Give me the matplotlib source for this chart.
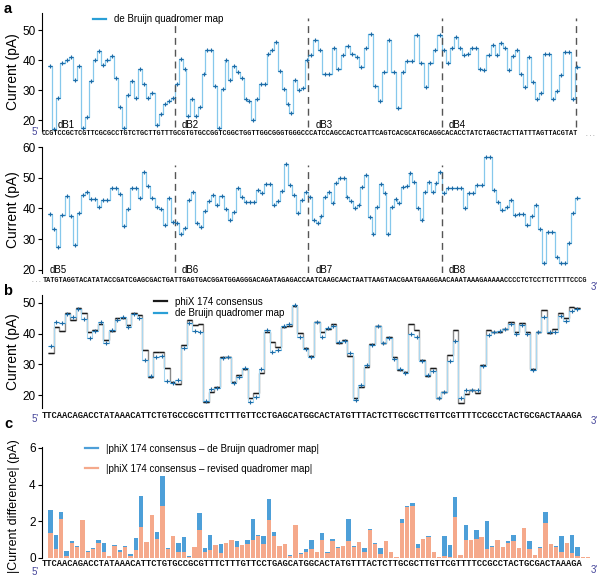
import numpy as np
import matplotlib
matplotlib.use('Agg')
import matplotlib.pyplot as plt

plt.rcParams['font.family'] = ['Liberation Sans', 'DejaVu Sans']

# ---- data ----
# panel a, upper trace: de Bruijn segments dB1..dB4 (current levels, pA)
dB1 = [38, 17, 27.5, 39, 40, 41, 33.5, 38, 17.5, 21, 33, 40, 43, 38.5, 40, 41.5, 34, 24.5,
       17.5, 28.5, 33, 27.5, 37, 32, 27.5, 29, 18.5, 22, 25.5, 26.5, 27.5]
dB2 = [32, 40.5, 37, 21.5, 27, 21.5, 24.5, 35.5, 43.5, 43.5, 31.5, 17.5, 30.5, 40, 33.5, 38,
       36, 34, 27, 26.5, 20, 27, 32, 32, 42, 43.5, 46, 36.5, 30.5, 25.5, 22.5, 33.5, 30, 30.6, 40]
dB3 = [41.7, 46.7, 43.5, 35.3, 35.3, 44, 37, 41.7, 44.7, 42.2, 41, 37.8, 44.2, 48.6, 31.3,
       26.4, 36, 46.7, 36, 23.9, 36, 39.8, 39.8, 48.3, 39.1, 30.9, 38.9, 43.3, 48.3]
dB4 = [43.3, 38.9, 43.9, 47.6, 43.9, 41.7, 42.2, 43.9, 43.9, 37.2, 36.7, 41.7, 45, 41.7, 45.6,
       43.9, 36.7, 41.3, 43.3, 35.3, 31.1, 41.1, 32.8, 26.9, 29.1, 42.2, 42.2, 27.2, 29.8, 35,
       42.8, 42.8, 26.9, 37.8]
# panel a, lower trace: dB5..dB8
dB5 = [38.1, 33.3, 27.4, 37.9, 44.1, 37.6, 28.1, 38.6, 44.4, 45.5, 43.0, 43.0, 40.6, 42.8, 42.8,
       46.6, 46.6, 44.7, 34.3, 39.8, 46.6, 46.6, 43.3, 52.0, 47.3, 43.3, 40.6, 39.8, 34.6, 43.3, 35.7]
dB6 = [35.4, 31.7, 33.5, 42.8, 45.5, 35.2, 34.1, 39.2, 42.5, 44.4, 41.1, 44.1, 39.9, 36.3, 39.0,
       46.8, 43.6, 42.2, 42.2, 42.2, 46.0, 45.1, 48.0, 48.0, 41.1, 42.5, 45.8, 54.5, 47.6, 44.4,
       38.4, 42.8, 45.5]
dB7 = [43.6, 36.3, 35.2, 37.6, 43.8, 45.5, 41.7, 48.4, 49.8, 49.8, 43.6, 42.5, 40.1, 41.1, 46.9,
       50.9, 37.1, 31.7, 40.4, 48.0, 44.9, 31.7, 40.6, 43.0, 41.9, 46.9, 47.3, 51.4, 48.7, 40.1,
       36.3, 45.5, 48.7, 45.5, 48.4, 52.0]
dB8 = [44.9, 46.6, 46.6, 46.6, 46.6, 40.3, 44.9, 44.9, 47.6, 47.6, 56.6, 56.6, 46.0, 42.2, 39.5,
       40.6, 42.8, 37.9, 38.2, 38.2, 34.6, 37.6, 41.1, 33.2, 22.4, 32.5, 32.5, 24.3, 22.4, 22.4,
       28.9, 38.6, 43.3]

seq_top = ('CCGTCCGCTCGTTCGCGCCTGTCTGCTTGTTTGCGTGTGCCGGTCGGCTGGTTGGCGGGTGG'
           'GCCCATCCAGCCACTCATTCAGTCACGCATGCAGGCACACCTATCTAGCTACTTATTTAGTTACGTAT')
seq_bottom = ('TATGTAGGTACATATACCGATCGAGCGACTGATTGAGTGACGGATGGAGGGACAGATAGAGACC'
              'AATCAAGCAACTAATTAAGTAACGAATGAAGGAACAAATAAAGAAAAACCCCTCTCCTTCTTTTCCCG')
seq_phix = ('TTCAACAGACCTATAAACATTCTGTGCCGCGTTTCTTTGTTCCTGAGCATGGCACTATGTTTACTC'
            'TTGCGCTTGTTCGTTTTCCGCCTACTGCGACTAAAGA')

# panel b: phiX 174 consensus vs de Bruijn quadromer map (pA)
consensus = [33.6, 42.3, 40.9, 46.6, 44.5, 48.3, 46.6, 40.7, 41.2, 43.0, 37.9, 41.0, 45.0, 45.0,
             42.8, 46.6, 46.1, 34.7, 26.0, 34.1, 34.1, 28.9, 24.3, 23.6, 36.3, 44.5, 42.8, 43.0,
             17.8, 21.1, 22.7, 32.5, 32.5, 24.3, 26.5, 28.4, 18.9, 20.8, 27.3, 40.7, 37.4, 35.8,
             42.3, 42.5, 49.0, 40.3, 35.5, 32.7, 43.9, 40.7, 41.4, 43.2, 37.1, 37.9, 32.7, 18.9,
             22.5, 29.2, 36.6, 42.5, 37.1, 38.8, 32.3, 28.2, 27.6, 43.2, 41.2, 31.4, 26.2, 28.7,
             18.9, 21.1, 33.0, 41.2, 17.5, 20.3, 21.6, 20.8, 29.8, 41.2, 40.7, 40.7, 41.4, 43.9,
             40.7, 43.6, 40.7, 28.4, 40.7, 47.7, 40.1, 41.4, 46.8, 45.0, 48.6, 48.3]
debruijn = [36.0, 43.8, 43.5, 46.3, 45.5, 48.0, 44.8, 38.6, 41.0, 43.8, 37.0, 41.2, 44.6, 45.3,
            42.2, 46.4, 45.2, 31.5, 26.3, 32.4, 32.8, 24.6, 24.0, 24.8, 35.5, 43.6, 40.8, 40.6,
            18.2, 22.0, 22.3, 32.0, 32.3, 24.0, 26.0, 28.9, 17.9, 19.5, 28.6, 41.3, 34.2, 34.6,
            42.6, 43.1, 49.4, 39.0, 35.0, 32.3, 43.7, 39.0, 41.8, 42.5, 37.4, 37.6, 33.8, 18.4,
            23.3, 29.9, 36.2, 42.4, 37.0, 38.5, 31.8, 28.4, 27.2, 40.0, 39.0, 31.2, 26.5, 28.0,
            19.0, 21.0, 31.2, 37.5, 19.0, 21.8, 21.8, 21.6, 29.6, 39.5, 40.5, 40.9, 41.6, 43.3,
            40.0, 42.9, 40.0, 28.2, 40.7, 45.5, 40.6, 40.5, 45.7, 44.1, 47.5, 48.0]

# panel c: |consensus - map| per base (pA)
diff_debruijn = [2.6, 1.28, 2.5, 0.37, 0.91, 0.64, 2.07, 0.38, 0.55, 1.0, 0.82, 0.1, 0.7, 0.46,
                 0.68, 0.24, 1.1, 3.4, 0.88, 2.34, 1.39, 4.48, 0.55, 1.22, 0.84, 1.15, 0.1, 0.6,
                 2.43, 0.56, 1.28, 0.7, 0.75, 0.82, 0.97, 0.91, 0.73, 0.97, 2.12, 1.24, 1.19, 3.2,
                 1.43, 0.66, 0.79, 0.15, 1.8, 0.27, 0.5, 1.0, 0.35, 1.35, 0.3, 1.05, 0.6, 0.65,
                 2.1, 0.65, 0.85, 0.55, 1.6, 0.8, 0.55, 0.9, 0.35, 0.05, 2.15, 2.85, 3.0, 0.75,
                 1.05, 1.2, 0.3, 0.05, 1.2, 0.7, 3.3, 0.15, 1.8, 1.0, 1.5, 1.15, 2.0, 0.65, 1.0,
                 0.6, 0.9, 1.25, 0.55, 1.65, 0.9, 0.15, 0.6, 2.5, 0.75, 0.65, 1.2, 0.8, 1.25, 0.6,
                 0.03, 0.03]
diff_revised = [1.37, 0.5, 2.1, 0.1, 0.82, 0.6, 2.07, 0.35, 0.5, 0.82, 0.33, 0.1, 0.65, 0.35,
                0.6, 0.1, 0.42, 1.7, 0.85, 2.34, 1.06, 2.83, 0.5, 1.2, 0.33, 0.33, 0.05, 0.6,
                1.55, 0.3, 0.42, 0.7, 0.27, 0.82, 0.97, 0.6, 0.7, 0.75, 1.0, 1.2, 0.75, 2.07,
                1.19, 0.66, 0.75, 0.12, 1.8, 0.2, 0.3, 0.5, 0.3, 1.0, 0.25, 0.9, 0.55, 0.65,
                0.9, 0.6, 0.85, 0.35, 1.55, 0.75, 0.2, 0.9, 0.35, 0.05, 1.9, 2.8, 2.85, 0.55,
                1.05, 1.15, 0.3, 0.05, 0.1, 0.05, 2.25, 0.15, 1.0, 1.0, 1.05, 1.15, 0.5, 0.6, 1.0,
                0.6, 0.8, 0.9, 0.55, 1.65, 0.5, 0.15, 0.55, 1.9, 0.75, 0.6, 0.3, 0.8, 0.25, 0.1,
                0.03, 0.03]

# ---- layout ----
W, H = 600, 578
fig = plt.figure(figsize=(W / 100, H / 100), dpi=100)

blue_h = '#2a8fcf'
blue_v = '#86c8ec'
blue_m = '#1d6aa5'
bar_blue = '#4d9fd8'
bar_orange = '#f5a98b'
prime_col = '#45459a'


def add_ax(top, bottom):
    return fig.add_axes([42 / W, 1 - bottom / H, 553 / W, (bottom - top) / H])


def style(ax, label, ticks, lsize=10, ly=0.5):
    for s in ['top', 'right', 'bottom']:
        ax.spines[s].set_visible(False)
    ax.spines['left'].set_linewidth(0.8)
    ax.set_xticks([])
    ax.set_yticks(ticks)
    ax.tick_params(axis='y', direction='out', length=3, width=0.8, labelsize=8.5, pad=1.5)
    ax.set_ylabel(label, fontsize=lsize)
    ax.yaxis.set_label_coords(-0.04, ly)


def seg_levels(segs, seg_edges):
    edges = [seg_edges[0]]
    for k, lv in enumerate(segs):
        edges.extend(np.linspace(seg_edges[k], seg_edges[k + 1], len(lv) + 1)[1:])
    return np.array(edges), np.concatenate(segs)


def trace(ax, edges, vals, hcol, vcol, lw=0.9, marks=True, z=2):
    ax.stairs(vals, edges, baseline=None, color=vcol, lw=lw, zorder=z)
    ax.hlines(vals, edges[:-1], edges[1:], color=hcol, lw=lw, zorder=z + 0.1)
    if marks:
        mid = (edges[:-1] + edges[1:]) / 2
        ax.plot(mid, vals, '+', color=blue_m, ms=3.5, mew=0.8, zorder=z + 0.2)


def seq_text(x0, x1, y, s):
    # Liberation Mono advance is 0.6 em, so size the font to span x0..x1 pixels
    size = (x1 - x0) / (len(s) * 0.6) * 72 / 100
    fig.text(x0 / W, 1 - y / H, s, ha='left', va='center', family='Liberation Mono',
             fontweight='bold', fontsize=size, color='#111111')


def ftext(x, y, s, **kw):
    fig.text(x / W, 1 - y / H, s, **kw)


seg_edges = [0.05, 1, 2, 3, 4.03]

# panel a, top
ax1 = add_ax(13, 130.6)
e, v = seg_levels([dB1, dB2, dB3, dB4], seg_edges)
trace(ax1, e, v, blue_h, blue_v)
ax1.set_xlim(0.004, 4.146)
ax1.set_ylim(16.5, 55.7)
for xd in [1, 2, 3, 4]:
    ax1.axvline(xd, ymin=0.03, ymax=0.957, color='#555555', lw=1.0, dashes=(5, 3.5))
for xl, name in zip([0.12, 1.05, 2.05, 3.05], ['dB1', 'dB2', 'dB3', 'dB4']):
    ax1.text(xl, 0.05, name, transform=ax1.get_xaxis_transform(), fontsize=7, va='center')
style(ax1, 'Current (pA)', [20, 30, 40, 50])
ax1.plot([], [], color='#2a9fd6', lw=1.6, label='de Bruijn quadromer map')
ax1.legend(loc='upper left', bbox_to_anchor=(0.092, 0.99), frameon=False, fontsize=7,
           handlelength=1.35, handletextpad=0.8, borderpad=0, borderaxespad=0)

# panel a, bottom
ax2 = add_ax(147, 273)
e, v = seg_levels([dB5, dB6, dB7, dB8], seg_edges)
trace(ax2, e, v, blue_h, blue_v)
ax2.set_xlim(0.004, 4.146)
ax2.set_ylim(19, 60)
for xd in [1, 2, 3]:
    ax2.axvline(xd, ymin=0.0, ymax=0.857, color='#555555', lw=1.0, dashes=(5, 3.5))
for xl, name in zip([0.06, 1.05, 2.05, 3.05], ['dB5', 'dB6', 'dB7', 'dB8']):
    ax2.text(xl, 0.025, name, transform=ax2.get_xaxis_transform(), fontsize=7, va='center')
style(ax2, 'Current (pA)', [20, 30, 40, 50, 60])

# panel b
ax3 = add_ax(295, 408)
eb = np.arange(len(consensus) + 1, dtype=float)
trace(ax3, eb, np.array(debruijn), blue_h, '#a9d7f0', lw=0.8, z=3)
ax3.stairs(consensus, eb, baseline=None, color='#8a8a8a', lw=1.0, zorder=2)
ax3.hlines(consensus, eb[:-1], eb[1:], color='#1a1a1a', lw=1.0, zorder=2.5)
ax3.set_xlim(-1.083, 98.7)
ax3.set_ylim(15.8, 52.6)
style(ax3, 'Current (pA)', [20, 30, 40, 50])
ax3.plot([], [], color='#1a1a1a', lw=1.6, label='phiX 174 consensus')
ax3.plot([], [], color='#2a9fd6', lw=1.6, label='de Bruijn quadromer map')
ax3.legend(loc='upper left', bbox_to_anchor=(0.2025, 0.985), frameon=False, fontsize=7,
           handlelength=1.35, handletextpad=0.8, borderpad=0, borderaxespad=0,
           labelspacing=0.15)

# panel c
ax4 = add_ax(447, 558)
xc = np.arange(len(diff_debruijn)) + 0.5
ax4.bar(xc, diff_debruijn, width=0.82, color=bar_blue, zorder=2)
ax4.bar(xc, diff_revised, width=0.82, color=bar_orange, zorder=3)
ax4.set_xlim(-1.128, 102.8)
ax4.set_ylim(0, 6.05)
style(ax4, '|Current difference| (pA)', [0, 2, 4, 6], lsize=9, ly=0.47)
ax4.plot([], [], color=bar_blue, lw=1.6, label='|phiX 174 consensus \u2013 de Bruijn quadromer map|')
ax4.plot([], [], color=bar_orange, lw=1.6, label='|phiX 174 consensus \u2013 revised quadromer map|')
ax4.legend(loc='upper left', bbox_to_anchor=(0.078, 1.03), frameon=False, fontsize=7,
           handlelength=1.35, handletextpad=0.8, borderpad=0, borderaxespad=0,
           labelspacing=1.05)

# sequences and strand ends
seq_text(42, 583, 133.5, seq_top)
ftext(586, 134, '. . .', fontsize=4.5, color='#444444', va='center')
ftext(41, 281, '. . .', fontsize=4.5, color='#444444', va='center', ha='right')
seq_text(43, 586, 281, seq_bottom)
seq_text(42, 586, 416, seq_phix)
seq_text(42, 586, 564, seq_phix)
ftext(35, 132, "5'", fontsize=7, color=prime_col, va='center', ha='center')
ftext(594, 287, "3'", fontsize=7, color=prime_col, va='center', ha='center')
ftext(35, 419, "5'", fontsize=7, color=prime_col, va='center', ha='center')
ftext(594, 421, "3'", fontsize=7, color=prime_col, va='center', ha='center')
ftext(35, 572, "5'", fontsize=7, color=prime_col, va='center', ha='center')
ftext(594, 570, "3'", fontsize=7, color=prime_col, va='center', ha='center')

# panel letters
for y, s in [(9, 'a'), (291, 'b'), (424, 'c')]:
    ftext(8, y, s, fontsize=10.5, fontweight='bold', va='center', ha='center')

fig.savefig('out.png', dpi=100)
